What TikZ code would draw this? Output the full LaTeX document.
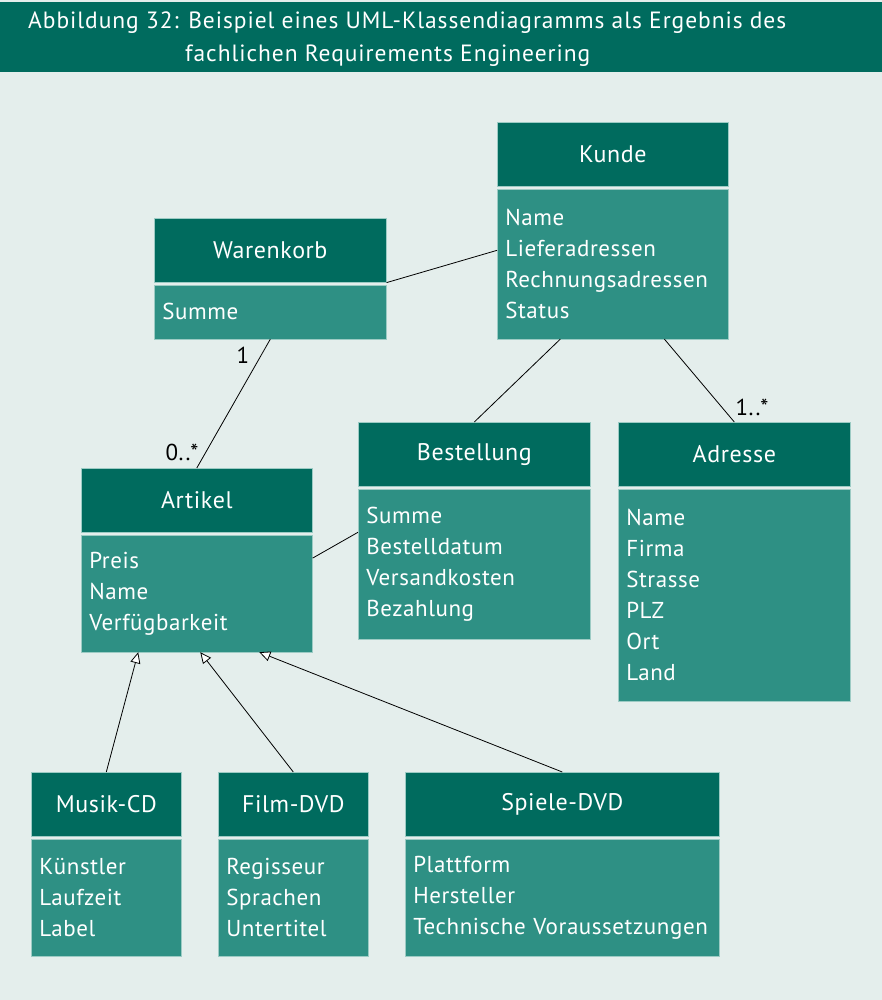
\documentclass[tikz,border=0pt]{standalone}
\usepackage{fontspec}
\setmainfont{PT Sans}[LetterSpace=2.5]
\newfontfamily\titlefont{PT Sans}[LetterSpace=4]
\usetikzlibrary{arrows.meta,calc}
\definecolor{hdr}{HTML}{006B5E}
\definecolor{bdy}{HTML}{2E9084}
\definecolor{bg}{HTML}{E4EEEC}
\definecolor{edge}{HTML}{9CCBC4}
\tikzset{
  x=1pt,y=-1pt,
  titletext/.style={anchor=base west,inner sep=0pt,text=white,font=\titlefont\fontsize{23.5}{33}\selectfont},
  clshead/.style={rectangle,fill=hdr,draw=edge,line width=0.6pt,anchor=north west,inner sep=0pt,text=white,font=\fontsize{24}{31}\selectfont},
  clsbody/.style={rectangle,fill=bdy,draw=edge,line width=0.6pt,anchor=north west,inner xsep=8pt,inner ysep=0pt,text=white,align=left,font=\fontsize{23}{31}\selectfont},
  assoc/.style={draw=black,line width=0.8pt},
  inherit/.style={draw=black,line width=0.8pt,-{Triangle[open,fill=white,length=11pt,width=10pt]}},
  mult/.style={font=\fontsize{23}{24}\selectfont,text=black,inner sep=0pt}
}
% \umlcls{name}{x}{y}{w}{headh}{bodyh}{title}{attrs}
\newcommand{\umlcls}[8]{%
  \node[clshead,minimum width=#4pt,minimum height=#5pt] (#1) at (#2,#3) {#7};
  \node[clsbody,minimum width=#4pt,minimum height=#6pt,text width=#4pt-16pt] (#1b) at ($(#1.south west)+(0,2)$) {#8};
}
\begin{document}
\begin{tikzpicture}
\fill[bg] (0,0) rectangle (882,1000);
\useasboundingbox (0,0) rectangle (882,1000);
\fill[hdr] (0,2) rectangle (882,72);
\node[titletext] (title1) at (28,29) {Abbildung 32: Beispiel eines UML-Klassendiagramms als Ergebnis des};
\node[titletext] (title2) at (185,62) {fachlichen Requirements Engineering};

\umlcls{kunde}{497}{122}{231}{64}{150}{Kunde}{Name\\Lieferadressen\\Rechnungsadressen\\Status}
\umlcls{waren}{154}{218}{232}{64}{54}{Warenkorb}{Summe}
\umlcls{best}{358}{422}{232}{64}{150}{Bestellung}{Summe\\Bestelldatum\\Versandkosten\\Bezahlung}
\umlcls{adr}{618}{422}{232}{64}{212}{Adresse}{Name\\Firma\\Strasse\\PLZ\\Ort\\Land}
\umlcls{art}{81}{468}{231}{64}{117}{Artikel}{Preis\\Name\\Verfügbarkeit}
\umlcls{cd}{31}{772}{150}{64}{117}{Musik-CD}{Künstler\\Laufzeit\\Label}
\umlcls{film}{218}{772}{150}{64}{117}{Film-DVD}{Regisseur\\Sprachen\\Untertitel}
\umlcls{spiel}{405}{772}{314}{64}{117}{Spiele-DVD}{Plattform\\Hersteller\\Technische Voraussetzungen}

% associations
\draw[assoc] (waren.south east) -- ($(kundeb.north west)!0.41!(kundeb.south west)$);
\draw[assoc] (warenb.south) -- (art.north);
\draw[assoc] ($(kundeb.south west)!0.273!(kundeb.south east)$) -- (best.north);
\draw[assoc] ($(kundeb.south west)!0.723!(kundeb.south east)$) -- (adr.north);
\draw[assoc] ($(artb.north east)!0.2!(artb.south east)$) -- ($(bestb.north west)!0.29!(bestb.south west)$);

% inheritance
\draw[inherit] (cd.north) -- ($(artb.south west)!0.247!(artb.south east)$);
\draw[inherit] (film.north) -- ($(artb.south west)!0.515!(artb.south east)$);
\draw[inherit] (spiel.north) -- ($(artb.south west)!0.77!(artb.south east)$);

% multiplicities
\node[mult] (m1) at (243,355) {1};
\node[mult] (m2) at (182,452) {0..*};
\node[mult] (m3) at (752,407) {1..*};
\end{tikzpicture}
\end{document}
